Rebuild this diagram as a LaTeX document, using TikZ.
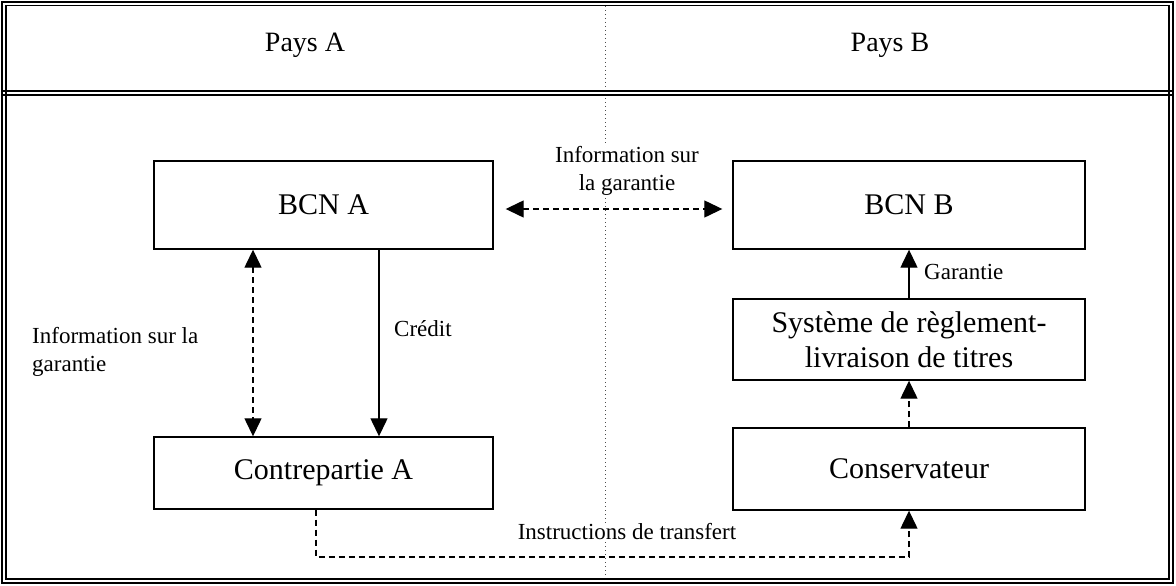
\documentclass[tikz,border=0pt]{standalone}
\usepackage{fontspec}
\setmainfont{Liberation Serif}
\usetikzlibrary{arrows.meta}
\begin{document}
\begin{tikzpicture}[x=1pt,y=-1pt,
  box/.style={draw, line width=1.4pt, inner sep=0pt, align=center, font=\fontsize{30}{35}\selectfont},
  lbl/.style={inner sep=1pt, font=\fontsize{23}{28}\selectfont},
  hdr/.style={font=\fontsize{28}{34}\selectfont},
  tipone/.style={-{Triangle[length=18pt,width=17pt]}},
  tiptwo/.style={{Triangle[length=18pt,width=17pt]}-{Triangle[length=18pt,width=17pt]}},
  dsh/.style={line width=1.3pt, dash pattern=on 6pt off 4pt},
  sld/.style={line width=1.3pt},
  frame/.style={line width=1.3pt}]
\useasboundingbox (0,0) rectangle (1176,586);
% dotted divider
\draw[black!70, line width=1pt, dash pattern=on 1pt off 3pt] (605,2) -- (605,583);
% frame
\draw[frame, line width=1.6pt] (2,2) rectangle (1173,583);
\draw[frame] (6,5.5) rectangle (1169,579);
\draw[frame, line width=1.6pt] (2,91) -- (1173,91);
\draw[frame] (2,95) -- (1173,95);
% headers
\node[hdr] (pa) at (305,45) {Pays A};
\node[hdr] (pb) at (890,45) {Pays B};
% boxes
\node[box, minimum width=339pt, minimum height=88pt] (bcna) at (323.5,205) {BCN A};
\node[box, minimum width=352pt, minimum height=88pt] (bcnb) at (909,205) {BCN B};
\node[box, minimum width=352pt, minimum height=81pt] (sys) at (909,339.5) {Système de règlement-\\livraison de titres};
\node[box, minimum width=352pt, minimum height=82pt] (cons) at (909,469) {Conservateur};
\node[box, minimum width=339pt, minimum height=72pt] (cpa) at (323.5,473) {Contrepartie A};
% connectors
\draw[dsh, tiptwo, shorten <=12pt, shorten >=10pt] (bcna.east |- 0,209) -- (bcnb.west |- 0,209);
\draw[dsh, tiptwo] (bcna.south -| 253,0) -- (cpa.north -| 253,0);
\draw[sld, tipone] (bcna.south -| 379,0) -- (cpa.north -| 379,0);
\draw[sld, tipone] (sys.north) -- (bcnb.south);
\draw[dsh, tipone] (cons.north) -- (sys.south);
\coordinate (c1) at (316,557);
\coordinate (c2) at (909,557);
\draw[dsh, tipone] (cpa.south -| c1) -- (c1) -- (c2) -- (cons.south);
% labels
\node[lbl, fill=white, align=center] (l1) at (627,171) {Information sur\\la garantie};
\node[lbl, align=left, anchor=west] (l2) at (31,352) {Information sur la\\garantie};
\node[lbl, anchor=west] (l3) at (393,329) {Crédit};
\node[lbl, anchor=west] (l4) at (923,272) {Garantie};
\node[lbl, fill=white] (l5) at (627,532) {Instructions de transfert};
\end{tikzpicture}
\end{document}
